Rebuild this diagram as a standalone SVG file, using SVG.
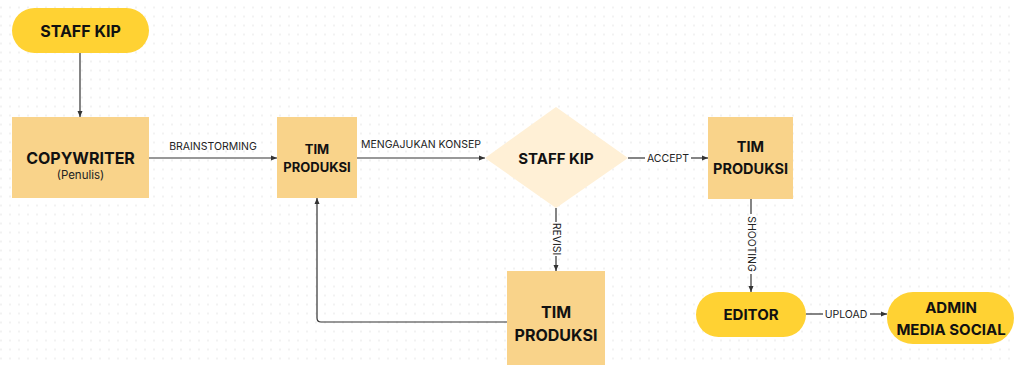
<svg xmlns="http://www.w3.org/2000/svg" width="1015" height="365" viewBox="0 0 1015 365">
<defs>
<pattern id="dots" x="0" y="6.5" width="9" height="9" patternUnits="userSpaceOnUse">
<circle cx="1" cy="1" r="0.8" fill="#e2e2e2"/>
</pattern>
<marker id="arr" viewBox="0 0 6 6" refX="6" refY="3" markerWidth="6" markerHeight="6" markerUnits="userSpaceOnUse" orient="auto">
<path d="M0,0.5 L6,3 L0,5.5 z" fill="#333"/>
</marker>
<style>
.pill{fill:#FFD233}
.box{fill:#F9D38A}
.dia{fill:#FFF0D6}
.t{font-family:Inter,"Liberation Sans",sans-serif;font-weight:700;fill:#111;text-anchor:middle}
.l{font-family:Inter,"Liberation Sans",sans-serif;font-size:10.5px;fill:#222;text-anchor:middle}
.c{fill:none;stroke:#333;stroke-width:1.2}
</style>
</defs>
<rect width="1015" height="365" fill="#fff"/>
<rect width="1015" height="365" fill="url(#dots)"/>

<g id="connectors">
<line class="c" x1="80" y1="53" x2="80" y2="117" marker-end="url(#arr)"/>
<line class="c" x1="149" y1="158" x2="277" y2="158" marker-end="url(#arr)"/>
<text class="l" x="213" y="150">BRAINSTORMING</text>
<line class="c" x1="357" y1="158" x2="485" y2="158" marker-end="url(#arr)"/>
<text class="l" x="421" y="148">MENGAJUKAN KONSEP</text>
<line class="c" x1="628" y1="158" x2="645" y2="158"/>
<text class="l" x="668" y="161.5">ACCEPT</text>
<line class="c" x1="691" y1="158" x2="708" y2="158" marker-end="url(#arr)"/>
<line class="c" x1="751" y1="199" x2="751" y2="214"/>
<text class="l" transform="translate(747.5,244) rotate(90)">SHOOTING</text>
<line class="c" x1="751" y1="274" x2="751" y2="292" marker-end="url(#arr)"/>
<line class="c" x1="806" y1="314" x2="823" y2="314"/>
<text class="l" x="846" y="317.5">UPLOAD</text>
<line class="c" x1="870" y1="314" x2="887" y2="314" marker-end="url(#arr)"/>
<line class="c" x1="556" y1="208" x2="556" y2="222"/>
<text class="l" transform="translate(552.5,239) rotate(90)">REVISI</text>
<line class="c" x1="556" y1="256" x2="556" y2="271" marker-end="url(#arr)"/>
<path class="c" d="M507,322 H321 Q317,322 317,318 V198" marker-end="url(#arr)"/>
</g>

<g id="staff-kip-top">
<rect class="pill" x="12" y="8" width="137" height="45" rx="22.5"/>
<text class="t" x="80.5" y="36.5" font-size="16">STAFF KIP</text>
</g>
<g id="copywriter">
<rect class="box" x="12" y="117" width="137" height="81"/>
<text class="t" x="80.5" y="164" font-size="16">COPYWRITER</text>
<text class="l" x="80.5" y="179" style="font-size:11.5px">(Penulis)</text>
</g>
<g id="tim-produksi-1">
<rect class="box" x="277" y="117" width="80" height="81"/>
<text class="t" x="317" y="154" font-size="13">TIM</text>
<text class="t" x="317" y="172" font-size="13">PRODUKSI</text>
</g>
<g id="staff-kip-decision">
<polygon class="dia" points="485,158 556,107 628,158 556,208"/>
<text class="t" x="556" y="163.5" font-size="15">STAFF KIP</text>
</g>
<g id="tim-produksi-2">
<rect class="box" x="708" y="117" width="85" height="82"/>
<text class="t" x="750.5" y="152" font-size="14.5">TIM</text>
<text class="t" x="750.5" y="174" font-size="14.5">PRODUKSI</text>
</g>
<g id="editor">
<rect class="pill" x="696" y="292" width="110" height="45" rx="22.5"/>
<text class="t" x="751" y="319.5" font-size="15">EDITOR</text>
</g>
<g id="admin-media-social">
<rect class="pill" x="887" y="292" width="127" height="52" rx="26"/>
<text class="t" x="951" y="312.5" font-size="15">ADMIN</text>
<text class="t" x="951" y="334.5" font-size="15">MEDIA SOCIAL</text>
</g>
<g id="tim-produksi-3">
<rect class="box" x="507" y="271" width="98" height="100"/>
<text class="t" x="556" y="317.5" font-size="16">TIM</text>
<text class="t" x="556" y="341" font-size="16">PRODUKSI</text>
</g>
</svg>
